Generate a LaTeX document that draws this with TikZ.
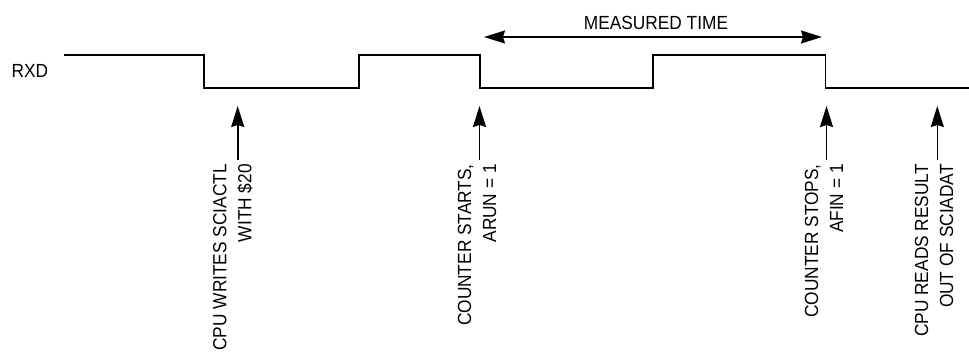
\documentclass[tikz,border=0pt]{standalone}
\usepackage{fontspec}
\setmainfont{Liberation Sans}[FakeStretch=0.91]
\usetikzlibrary{arrows.meta}
\begin{document}
\begin{tikzpicture}[x=1pt,y=-1pt,
  wave/.style={line width=1.6pt},
  evarrow/.style={line width=1.6pt,-{Stealth[length=21pt,width=13pt,inset=2pt]}},
  timearrow/.style={line width=1.6pt,{Stealth[length=21pt,width=13pt,inset=2pt]}-{Stealth[length=21pt,width=13pt,inset=2pt]}},
  lbl/.style={font=\fontsize{19}{25}\selectfont,inner sep=0pt},
  evlbl/.style={lbl,rotate=90,align=right,anchor=east}]
\useasboundingbox (0,0) rectangle (969,353);
% waveform
\draw[wave] (64,55) -- (204,55) -- (204,88) -- (358.7,88) -- (358.7,55) -- (480,55)
  -- (480,88) -- (652.7,88) -- (652.7,55) -- (825.5,55) -- (825.5,88) -- (969,88);
\node[lbl,anchor=west] (rxd) at (11.5,71) {RXD};
% measured time
\coordinate (mtl) at (484,37);
\coordinate (mtr) at (822,37);
\draw[timearrow] (mtl) -- (mtr);
\node[lbl] (mt) at (656,23) {MEASURED TIME};
% event arrows
\foreach \n/\x in {a/237.7,b/479.5,c/826.5,d/937.3}{
  \coordinate (\n tail) at (\x,160);
  \coordinate (\n tip) at (\x,106);
}
\draw[evarrow] (atail) -- (atip);
\draw[evarrow] (btail) -- (btip);
\draw[evarrow] (ctail) -- (ctip);
\draw[evarrow] (dtail) -- (dtip);
\node[evlbl] (la) at (233,164) {CPU WRITES SCIACTL\\WITH \$20};
\node[evlbl] (lb) at (477,164) {COUNTER STARTS,\\ARUN = 1};
\node[evlbl] (lc) at (824,164) {COUNTER STOPS,\\AFIN = 1};
\node[evlbl] (ld) at (934,164) {CPU READS RESULT\\OUT OF SCIADAT};
\end{tikzpicture}
\end{document}
